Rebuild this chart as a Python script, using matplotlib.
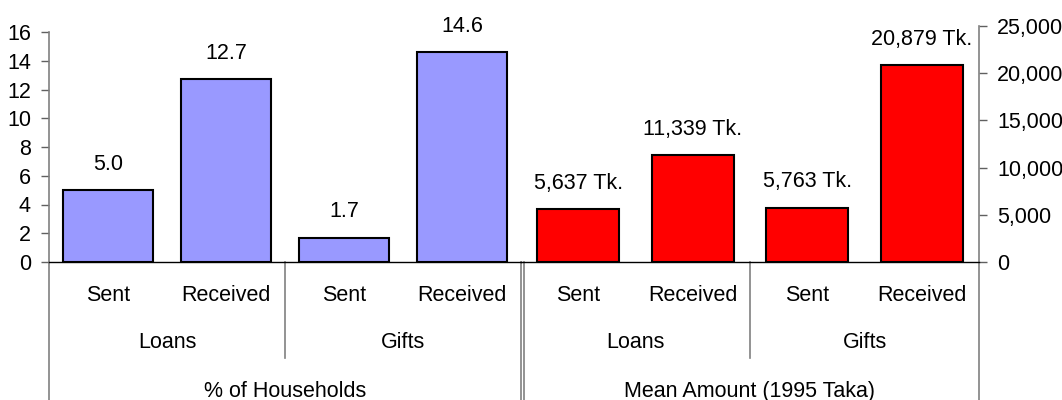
import matplotlib
matplotlib.use("Agg")
import matplotlib.pyplot as plt
import matplotlib.transforms as mtransforms
from matplotlib.ticker import FuncFormatter

plt.rcParams['font.family'] = ['Liberation Sans', 'DejaVu Sans']

# ---- data ----
sub_labels = ["Sent", "Received", "Sent", "Received"]
group_labels = ["Loans", "Gifts"]
panel_labels = ["% of Households", "Mean Amount (1995 Taka)"]
pct_households = [5.0, 12.7, 1.7, 14.6]
mean_amount = [5637, 11339, 5763, 20879]
left_ticks = [0, 2, 4, 6, 8, 10, 12, 14, 16]
right_ticks = [0, 5000, 10000, 15000, 20000, 25000]

W, H = 1062, 400
FS = 15.5
fig = plt.figure(figsize=(W / 100, H / 100), dpi=100)

def fx(px):
    return px / W

def fy(py):
    return 1 - py / H

ax1 = fig.add_axes([fx(49), fy(262), fx(521 - 49), (262 - 32) / H])
ax2 = fig.add_axes([fx(521), fy(262), fx(979 - 521), (262 - 26) / H])

axis_gray = '#808080'

def setup(ax, values, color, width, ylim, ticks, fmt_label, side):
    x = list(range(len(values)))
    ax.bar(x, values, width=width, color=color, edgecolor='black', linewidth=1.5, zorder=3)
    ax.set_xlim(-0.5, len(values) - 0.5)
    ax.set_ylim(*ylim)
    ax.set_yticks(ticks)
    for s in ax.spines.values():
        s.set_visible(False)
    ax.spines['bottom'].set_visible(True)
    ax.spines['bottom'].set_color('black')
    ax.spines['bottom'].set_linewidth(1.0)
    ax.set_xticks([])
    ax.patch.set_visible(False)
    if side == 'right':
        ax.yaxis.tick_right()
    ax.tick_params(axis='y', direction='out', length=6, width=1.0, color='#606060',
                   pad=7, labelsize=FS)
    for xi, v in zip(x, values):
        ax.annotate(fmt_label(v), (xi, v), xytext=(0, 14.5), textcoords='offset points',
                    ha='center', va='baseline', fontsize=FS)
    blend_data = mtransforms.blended_transform_factory(ax.transData, fig.transFigure)
    blend_axes = mtransforms.blended_transform_factory(ax.transAxes, fig.transFigure)
    for xi, lab in zip(x, sub_labels):
        ax.text(xi, fy(301), lab, transform=blend_data, ha='center', va='baseline', fontsize=FS)
    for gi, g in enumerate(group_labels):
        ax.text(gi * 2 + 0.5, fy(348), g, transform=blend_data, ha='center', va='baseline', fontsize=FS)
    # Loans/Gifts separator
    ax.plot([1.5, 1.5], [fy(262), fy(358)], transform=blend_data, color=axis_gray,
            linewidth=1.2, clip_on=False)
    return blend_axes

b1 = setup(ax1, pct_households, '#9999FF', 90 / 118, (0, 16), left_ticks,
           lambda v: f"{v:.1f}", 'left')
b2 = setup(ax2, mean_amount, '#FF0000', 82 / 114, (0, 25000), right_ticks,
           lambda v: f"{v:,.0f} Tk.", 'right')
ax2.yaxis.set_major_formatter(FuncFormatter(lambda v, p: f"{v:,.0f}"))

# axis lines extending to bottom
ax1.plot([0, 0], [fy(32), 0], transform=b1, color=axis_gray, linewidth=1.2, clip_on=False)
ax1.plot([1, 1], [fy(262), 0], transform=b1, color=axis_gray, linewidth=1.2, clip_on=False)
ax2.plot([0, 0], [fy(262), 0], transform=mtransforms.blended_transform_factory(
    mtransforms.offset_copy(ax2.transAxes, fig=fig, x=2.5, units='dots'), fig.transFigure),
    color=axis_gray, linewidth=1.2, clip_on=False)
ax2.plot([1, 1], [fy(26), 0], transform=b2, color=axis_gray, linewidth=1.2, clip_on=False)

ax1.text(0.5, fy(397), panel_labels[0], transform=b1, ha='center', va='baseline', fontsize=FS)
ax2.text(0.5, fy(397), panel_labels[1], transform=b2, ha='center', va='baseline', fontsize=FS)

fig.savefig("out.png", dpi=100)
